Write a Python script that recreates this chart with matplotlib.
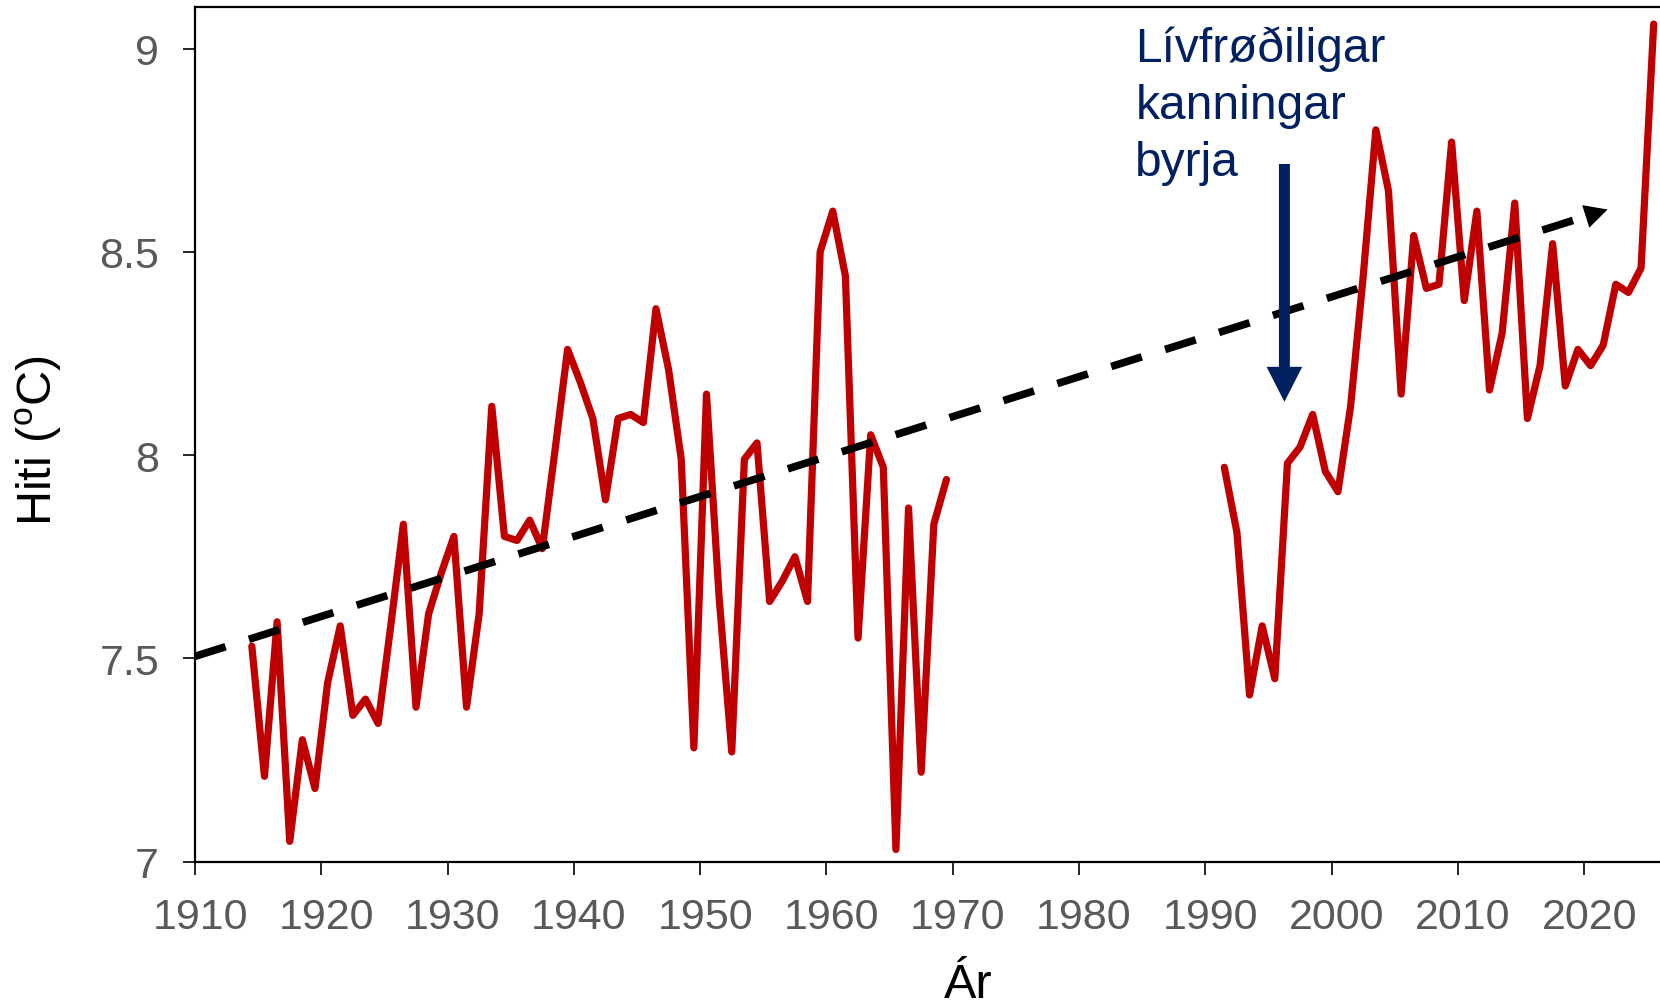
import numpy as np
import matplotlib
matplotlib.use("Agg")
import matplotlib.pyplot as plt
from matplotlib.patches import FancyArrowPatch
from matplotlib.transforms import ScaledTranslation

plt.rcParams['font.family'] = ['Liberation Sans', 'DejaVu Sans']
plt.rcParams['mathtext.fontset'] = 'custom'
plt.rcParams['mathtext.rm'] = 'Liberation Sans'

# ---- data ----
years_early = list(range(1914, 1970))
temp_early = [7.53, 7.21, 7.59, 7.05, 7.30, 7.18, 7.44, 7.58, 7.36, 7.40,
              7.34, 7.58, 7.83, 7.38, 7.61, 7.71, 7.80, 7.38, 7.61, 8.12,
              7.80, 7.79, 7.84, 7.77, 8.01, 8.26, 8.18, 8.09, 7.89, 8.09,
              8.10, 8.08, 8.36, 8.21, 7.99, 7.28, 8.15, 7.65, 7.27, 7.99,
              8.03, 7.64, 7.69, 7.75, 7.64, 8.50, 8.60, 8.44, 7.55, 8.05,
              7.97, 7.03, 7.87, 7.22, 7.83, 7.94]
years_late = list(range(1991, 2026))
temp_late = [7.97, 7.81, 7.41, 7.58, 7.45, 7.98, 8.02, 8.10, 7.96, 7.91,
             8.12, 8.44, 8.80, 8.65, 8.15, 8.54, 8.41, 8.42, 8.77, 8.38,
             8.60, 8.16, 8.30, 8.62, 8.09, 8.22, 8.52, 8.17, 8.26, 8.22,
             8.27, 8.42, 8.40, 8.46, 9.06]

trend_years = [1910, 2021.85]
trend_values = [7.505, 8.604]

marker_year = 1996.26          # start of biological surveys (arrow)
marker_top, marker_bottom = 8.716, 8.131

xticks = list(range(1910, 2021, 10))
yticks = [7, 7.5, 8, 8.5, 9]
ytick_labels = ['7', '7.5', '8', '8.5', '9']

annotation = "Lívfrøðiligar\nkanningar\nbyrja"
xlabel = "Ár"
ylabel = r"Hiti ($\mathregular{^o}$C)"

red = '#C00000'
navy = '#002060'
gray = '#595959'

# ---- figure ----
fig = plt.figure(figsize=(16.6, 10.04), dpi=100)
ax = fig.add_axes([195 / 1660, 141.3 / 1004, 1465 / 1660, 854.4 / 1004])

# yearly values sit at mid-year on the axis
for yrs, vals in [(years_early, temp_early), (years_late, temp_late)]:
    ax.plot(np.array(yrs) + 0.5, vals, color=red, lw=5.2,
            solid_joinstyle='round', solid_capstyle='round', zorder=3)

# trend line (dashed) with arrow head
t0, t1 = trend_years
v0, v1 = trend_values
slope = (v1 - v0) / (t1 - t0)
head_base = t1 - 1.75
ax.plot([t0, head_base], [v0, v0 + slope * (head_base - t0)], color='black',
        lw=5.5, dashes=(4.2, 3.2), dash_capstyle='butt', zorder=4)
ax.add_patch(FancyArrowPatch((head_base - 0.5, v0 + slope * (head_base - 0.5 - t0)),
                             (t1, v1),
                             arrowstyle='-|>,head_length=16.5,head_width=8.5',
                             mutation_scale=1, color='black', lw=0,
                             shrinkA=0, shrinkB=0, zorder=4))

# navy arrow
ax.add_patch(FancyArrowPatch((marker_year, marker_top), (marker_year, marker_bottom),
                             arrowstyle='simple,head_length=25.2,head_width=25.7,tail_width=7.9',
                             mutation_scale=1, color=navy, lw=0,
                             shrinkA=0, shrinkB=0, zorder=5))

ax.text(1984.45, 8.690, annotation, color=navy, fontsize=34.5,
        ha='left', va='baseline', linespacing=1.34)

# axes styling
ax.set_xlim(1910, 2026)
ax.set_ylim(7, 7 + 854.4 / 406.6)
ax.set_xticks(xticks)
ax.set_xticklabels([str(t) for t in xticks])
ax.set_yticks(yticks)
ax.set_yticklabels(ytick_labels)
ax.tick_params(axis='x', direction='out', length=9.4, width=1.2, pad=15.8,
               labelsize=31, labelcolor=gray, color='black')
ax.tick_params(axis='y', direction='out', length=8.9, width=1.2, pad=17,
               labelsize=31, labelcolor=gray, color='black')
shift = ScaledTranslation(5 / 100, 0, fig.dpi_scale_trans)
for lab in ax.get_xticklabels():
    lab.set_transform(lab.get_transform() + shift)
for s in ['left', 'bottom', 'top']:
    ax.spines[s].set_linewidth(1.6)
    ax.spines[s].set_color('black')
ax.spines['right'].set_visible(False)

ax.set_ylabel(ylabel, fontsize=35, color='black')
ax.yaxis.set_label_coords(-0.0896, 0.4941)
ax.set_xlabel(xlabel, fontsize=35, color='black')
ax.xaxis.set_label_coords(0.528, -0.1175)

fig.savefig('out.png', dpi=100)
